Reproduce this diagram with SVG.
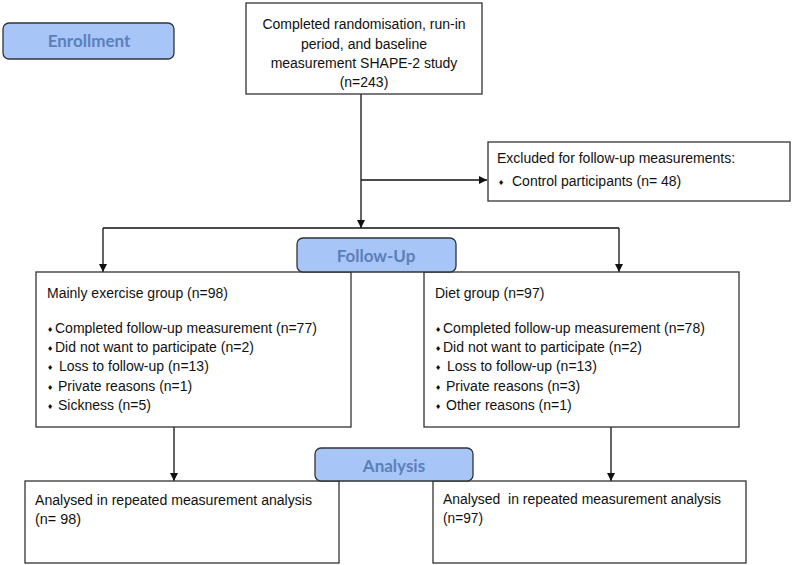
<svg xmlns="http://www.w3.org/2000/svg" width="793" height="565" viewBox="0 0 793 565">
<defs>
<marker id="arr" markerWidth="10" markerHeight="10" refX="9" refY="5" orient="auto" markerUnits="userSpaceOnUse">
<path d="M1,1 L9,5 L1,9 Z" fill="#111"/>
</marker>
<style>
.box{fill:#fff;stroke:#333;stroke-width:1.3}
.hdr{fill:#a8c5f8;stroke:#333;stroke-width:1.3}
.ht{font-family:Lato,"Open Sans",sans-serif;font-weight:700;font-size:17px;fill:#5b80b9;text-anchor:middle}
.t{font-family:"Liberation Sans",Arial,sans-serif;font-size:14px;fill:#111}
.c{text-anchor:middle}
.b{font-family:"DejaVu Sans",sans-serif;font-size:7px;fill:#111}
.n{font-family:"Liberation Sans",Arial,sans-serif;font-size:15.5px;fill:#111}
.ln{fill:none;stroke:#111;stroke-width:1.3}
</style>
</defs>
<rect width="793" height="565" fill="#fff"/>

<g id="connectors">
<path class="ln" d="M361,94 V228" marker-end="url(#arr)"/>
<path class="ln" d="M361,180 H487" marker-end="url(#arr)"/>
<path class="ln" d="M103,228 H619"/>
<path class="ln" d="M103,228 V272" marker-end="url(#arr)"/>
<path class="ln" d="M619,228 V272" marker-end="url(#arr)"/>
<path class="ln" d="M174,427 V481" marker-end="url(#arr)"/>
<path class="ln" d="M611,427 V481" marker-end="url(#arr)"/>
</g>

<g id="enrollment">
<rect class="hdr" x="3" y="23" width="171" height="36" rx="6"/>
<text class="ht" x="89" y="47">Enrollment</text>
</g>

<g id="start">
<rect class="box" x="246" y="3" width="236" height="91"/>
<text class="t c" x="364" y="29">Completed randomisation, run-in</text>
<text class="t c" x="364" y="48.5">period, and baseline</text>
<text class="t c" x="364" y="68">measurement SHAPE-2 study</text>
<text class="t c" x="364" y="87">(n=243)</text>
</g>

<g id="excluded">
<rect class="box" x="488" y="142" width="302" height="59"/>
<text class="t" x="497" y="163">Excluded for follow-up measurements:</text>
<text class="b" x="498" y="185">♦</text>
<text class="t" x="512" y="186">Control participants (n= 48)</text>
</g>

<g id="exercise">
<rect class="box" x="36" y="272" width="315" height="155"/>
<text class="t" x="47" y="298">Mainly exercise group (n=98)</text>
<text class="b" x="47" y="332">♦</text><text class="t" x="55" y="333">Completed follow-up measurement (n=77)</text>
<text class="b" x="47" y="351">♦</text><text class="t" x="55" y="352">Did not want to participate (n=2)</text>
<text class="b" x="47" y="370">♦</text><text class="t" x="59" y="371">Loss to follow-up (n=13)</text>
<text class="b" x="47" y="390">♦</text><text class="t" x="58" y="391">Private reasons (n=1)</text>
<text class="b" x="47" y="409">♦</text><text class="t" x="58" y="410">Sickness (n=5)</text>
</g>

<g id="diet">
<rect class="box" x="424" y="272" width="315" height="155"/>
<text class="t" x="435" y="298">Diet group (n=97)</text>
<text class="b" x="435" y="332">♦</text><text class="t" x="443" y="333">Completed follow-up measurement (n=78)</text>
<text class="b" x="435" y="351">♦</text><text class="t" x="443" y="352">Did not want to participate (n=2)</text>
<text class="b" x="435" y="370">♦</text><text class="t" x="447" y="371">Loss to follow-up (n=13)</text>
<text class="b" x="435" y="390">♦</text><text class="t" x="446" y="391">Private reasons (n=3)</text>
<text class="b" x="435" y="409">♦</text><text class="t" x="446" y="410">Other reasons (n=1)</text>
</g>

<g id="followup">
<rect class="hdr" x="297" y="238" width="159" height="34" rx="6"/>
<text class="ht" x="376" y="262">Follow-Up</text>
</g>

<g id="analysed-exercise">
<rect class="box" x="25" y="481" width="314" height="82"/>
<text class="n" x="35" y="505" textLength="277" lengthAdjust="spacingAndGlyphs">Analysed in repeated measurement analysis</text>
<text class="n" x="35" y="524" textLength="46" lengthAdjust="spacingAndGlyphs">(n= 98)</text>
</g>

<g id="analysed-diet">
<rect class="box" x="433" y="481" width="313" height="82"/>
<text class="n" x="443" y="504" textLength="278" lengthAdjust="spacingAndGlyphs" xml:space="preserve">Analysed  in repeated measurement analysis</text>
<text class="n" x="443" y="523" textLength="40" lengthAdjust="spacingAndGlyphs">(n=97)</text>
</g>

<g id="analysis">
<rect class="hdr" x="315" y="448" width="158" height="33" rx="6"/>
<text class="ht" x="394" y="472">Analysis</text>
</g>
</svg>
